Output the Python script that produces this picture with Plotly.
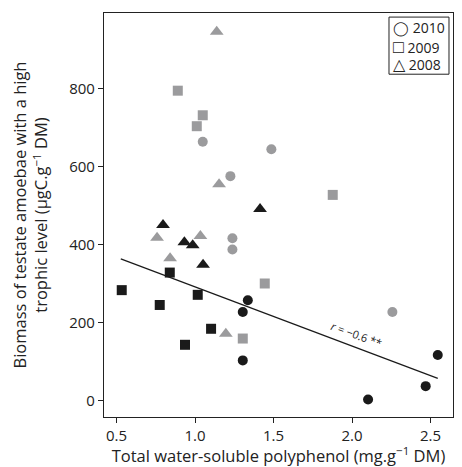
import plotly.graph_objects as go

# 2010 (circles)
x2010_gray = [1.049, 1.486, 1.225, 1.238, 1.238, 2.257]
y2010_gray = [663, 644, 575, 416, 387, 227]
x2010_black = [1.336, 1.304, 1.304, 2.546, 2.469, 2.102]
y2010_black = [257, 227, 103, 117, 37, 3]
# 2009 (squares)
x2009_gray = [0.890, 1.049, 1.011, 1.877, 1.444, 1.304]
y2009_gray = [794, 731, 703, 527, 300, 159]
x2009_black = [0.839, 0.533, 1.017, 0.775, 1.102, 0.936]
y2009_black = [328, 283, 271, 245, 184, 143]
# 2008 (triangles)
x2008_gray = [1.138, 1.153, 0.758, 1.034, 0.841, 1.196]
y2008_gray = [945, 554, 417, 422, 365, 171]
x2008_black = [1.414, 0.796, 0.932, 0.985, 1.051]
y2008_black = [491, 450, 406, 398, 348]

fit_x = [0.527, 2.546]
fit_y = [363, 57]

years = ["2010", "2009", "2008"]
legend_glyphs = ["◯", "□", "△"]
legend_glyph_sizes = [14, 18, 16]
xticks = [0.5, 1.0, 1.5, 2.0, 2.5]
yticks = [0, 200, 400, 600, 800]

GRAY = "#9b9b9d"
BLACK = "#1a1a1a"
FONT = "Open Sans"

fig = go.Figure()

def add(x, y, sym, color, size, name):
    fig.add_trace(go.Scatter(x=x, y=y, mode="markers", showlegend=False, name=name,
                             marker=dict(symbol=sym, color=color, size=size,
                                         line=dict(width=0))))

add(x2010_gray, y2010_gray, "circle", GRAY, 10, "2010")
add(x2010_black, y2010_black, "circle", BLACK, 10, "2010")
add(x2009_gray, y2009_gray, "square", GRAY, 10, "2009")
add(x2009_black, y2009_black, "square", BLACK, 10, "2009")
add(x2008_gray, y2008_gray, "triangle-up", GRAY, 12, "2008")
add(x2008_black, y2008_black, "triangle-up", BLACK, 12, "2008")

fig.add_trace(go.Scatter(x=fit_x, y=fit_y, mode="lines", showlegend=False,
                         line=dict(color=BLACK, width=1.2)))

fig.add_annotation(x=2.03, y=169, text="<i>r</i> = −0.6 **", showarrow=False,
                   textangle=20, font=dict(family=FONT, size=11, color="#222"))

# legend: a framed box with one text row per year
fig.add_shape(type="rect", xref="paper", yref="paper",
              x0=0.8166, x1=0.9885, y0=0.8485, y1=0.9899,
              line=dict(color="#222", width=1), fillcolor="white", layer="above")
row_y = [0.9646, 0.9192, 0.8737]
for g, s, yr, ry in zip(legend_glyphs, legend_glyph_sizes, years, row_y):
    fig.add_annotation(xref="paper", yref="paper", x=0.823, y=ry,
                       xanchor="left", yanchor="middle", showarrow=False,
                       text=f'<span style="font-size:{s}px">{g}</span> {yr}',
                       font=dict(family=FONT, size=14, color="#222"))

axis_common = dict(showline=True, linecolor="#222", linewidth=1.2, mirror=True,
                   ticks="outside", ticklen=5, tickcolor="#222", tickwidth=1,
                   showgrid=False, zeroline=False, automargin=False,
                   tickfont=dict(family=FONT, size=15, color="#222"))

fig.update_xaxes(range=[0.42, 2.643], tickvals=xticks,
                 ticktext=[f"{v:.1f}" for v in xticks],
                 title=dict(text="Total water-soluble polyphenol (mg.g<sup>−1</sup> DM)",
                            font=dict(family=FONT, size=16.5, color="#222"), standoff=16),
                 **axis_common)
fig.update_yaxes(range=[-42, 993], tickvals=yticks,
                 title=dict(text="Biomass of testate amoebae with a high<br>trophic level (µgC.g<sup>−1</sup> DM)",
                            font=dict(family=FONT, size=16.5, color="#222"), standoff=19),
                 **axis_common)

# page body adds an 8px margin; size figure so the plot area lands at the reference pixels
fig.update_layout(
    template="none",
    width=454, height=459,
    margin=dict(l=96, r=9, t=5, b=50),
    plot_bgcolor="white", paper_bgcolor="white",
    showlegend=False,
)

fig.write_html("out.html")
